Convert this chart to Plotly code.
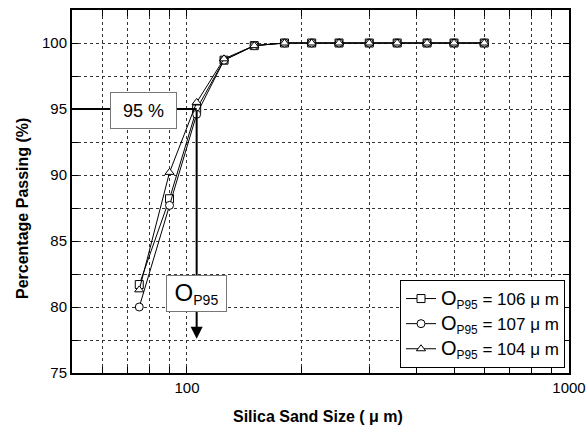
import math
import plotly.graph_objects as go

# ---- data ----
sieve_sizes = [75, 90, 106, 125, 150, 180, 212, 250, 300, 355, 425, 500, 600]
passing_a = [81.7, 88.2, 95.0, 98.7, 99.8, 100, 100, 100, 100, 100, 100, 100, 100]
passing_b = [80.0, 87.7, 94.6, 98.7, 99.8, 100, 100, 100, 100, 100, 100, 100, 100]
passing_c = [81.3, 90.2, 95.5, 98.8, 99.8, 100, 100, 100, 100, 100, 100, 100, 100]
series_names = [
    "<span style='font-size:20px'>O</span><sub>P95</sub> = 106 μ m",
    "<span style='font-size:20px'>O</span><sub>P95</sub> = 107 μ m",
    "<span style='font-size:20px'>O</span><sub>P95</sub> = 104 μ m",
]
series_symbols = ["square", "circle", "triangle-up"]

x_major_vals = [100, 1000]
x_major_text = ["100", "1000"]
x_minor_vals = [50, 60, 70, 80, 90, 200, 300, 400, 500, 600, 700, 800, 900]
y_major_vals = [75, 80, 85, 90, 95, 100]
y_minor_vals = [77.5, 82.5, 87.5, 92.5, 97.5, 102.5]

target_pct = 95
o_p95 = 106

FONT = "Liberation Sans, Arial, sans-serif"

fig = go.Figure()
for ys, name, sym in zip([passing_a, passing_b, passing_c], series_names, series_symbols):
    fig.add_trace(go.Scatter(
        x=sieve_sizes, y=ys, name=name, mode="lines+markers",
        line=dict(color="black", width=1),
        marker=dict(symbol=sym, size=8, color="white",
                    line=dict(color="black", width=1)),
    ))

W, H = 586, 430
L, R, T, B = 72, 17, 10, 57
pw, ph = W - L - R, H - T - B


def px(xp, yp):
    """image pixel -> paper coords"""
    return (xp - L) / pw, 1 - (yp - T) / ph


# horizontal guide at 95 %
fig.add_shape(type="line", x0=50, x1=o_p95, y0=target_pct, y1=target_pct,
              xref="x", yref="y", line=dict(color="black", width=2), layer="above")
# vertical arrow down from O_P95
fig.add_annotation(x=math.log10(o_p95), y=77.6, ax=math.log10(o_p95), ay=target_pct,
                   xref="x", yref="y", axref="x", ayref="y", text="",
                   showarrow=True, arrowhead=2, arrowsize=1.2, arrowwidth=2, arrowcolor="black")
# labelled boxes
bx, by = px(143.5, 110)
fig.add_annotation(x=bx, y=by, xref="paper", yref="paper", text="95 %",
                   showarrow=False, font=dict(family=FONT, size=18, color="black"),
                   bgcolor="white", bordercolor="#777777", borderwidth=1,
                   width=63, height=33, xanchor="center", yanchor="middle")
bx, by = px(196, 293)
fig.add_annotation(x=bx, y=by, xref="paper", yref="paper",
                   text="<span style='font-size:24px'>O</span><sub>P95</sub>",
                   showarrow=False, font=dict(family=FONT, size=20, color="black"),
                   bgcolor="white", bordercolor="#777777", borderwidth=1,
                   width=57, height=33, xanchor="center", yanchor="middle")

# axis titles as annotations
bx, by = px(318, 417)
fig.add_annotation(x=bx, y=by, xref="paper", yref="paper",
                   text="<b>Silica Sand Size ( μ m)</b>", showarrow=False,
                   font=dict(family=FONT, size=16, color="black"),
                   xanchor="center", yanchor="middle")
bx, by = px(22, 209)
fig.add_annotation(x=bx, y=by, xref="paper", yref="paper",
                   text="<b>Percentage Passing (%)</b>", showarrow=False, textangle=-90,
                   font=dict(family=FONT, size=16, color="black"),
                   xanchor="center", yanchor="middle")

lx, ly = px(565, 368)
fig.update_layout(
    width=W, height=H, autosize=False,
    margin=dict(l=L, r=R, t=T, b=B),
    paper_bgcolor="white", plot_bgcolor="white",
    font=dict(family=FONT, size=15, color="black"),
    showlegend=True,
    legend=dict(x=lx, y=ly, xanchor="right", yanchor="bottom",
                bgcolor="white", bordercolor="black", borderwidth=1,
                font=dict(family=FONT, size=17, color="black"),
                tracegroupgap=0, itemwidth=30),
)
grid = dict(showgrid=True, gridcolor="#333333", griddash="dot", gridwidth=1)
fig.update_xaxes(
    type="log", range=[math.log10(50), math.log10(1000)], automargin=False,
    tickmode="array", tickvals=x_major_vals, ticktext=x_major_text,
    ticks="inside", ticklen=6, tickwidth=1, tickcolor="black",
    minor=dict(tickmode="array", tickvals=x_minor_vals, ticks="inside", ticklen=6,
               tickwidth=1, tickcolor="black", **grid),
    showline=True, linecolor="black", linewidth=2, mirror="allticks",
    zeroline=False, tickfont=dict(family=FONT, size=15, color="black"), **grid,
)
fig.update_yaxes(
    range=[75, 102.5], automargin=False,
    tickmode="array", tickvals=y_major_vals,
    ticks="inside", ticklen=6, tickwidth=1, tickcolor="black",
    minor=dict(tickmode="array", tickvals=y_minor_vals, ticks="inside", ticklen=6,
               tickwidth=1, tickcolor="black", **grid),
    showline=True, linecolor="black", linewidth=2, mirror="allticks",
    zeroline=False, tickfont=dict(family=FONT, size=15, color="black"), **grid,
)

fig.write_html("out.html", config={"displayModeBar": False, "responsive": False},
               post_script="document.body.style.margin='0';document.body.style.overflow='hidden';")
